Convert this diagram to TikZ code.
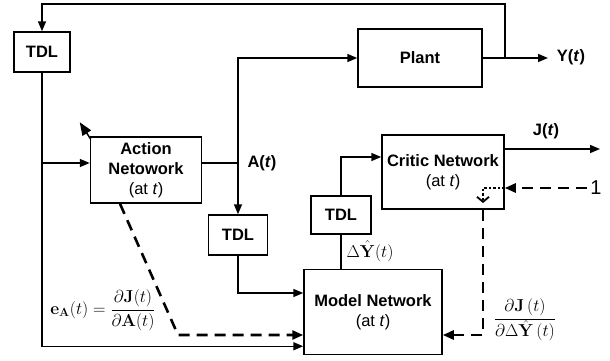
\documentclass[tikz,border=0pt]{standalone}
\usepackage[no-math]{fontspec}
\setmainfont{Liberation Sans}
\usetikzlibrary{arrows.meta}

\begin{document}
\begin{tikzpicture}[x=1pt,y=-1pt,
  font=\fontsize{16.5}{20}\selectfont\bfseries,
  blk/.style={draw, line width=1.5pt, align=center, inner sep=0pt},
  ln/.style={line width=1.5pt},
  arr/.style={ln, -{Triangle[length=10pt,width=8pt]}},
  dsh/.style={line width=2.6pt, dash pattern=on 11pt off 7pt, -{Triangle[length=11pt,width=9pt]}}]
\useasboundingbox (0,0) rectangle (610,360);
% blocks
\node[blk, minimum width=56, minimum height=40] (tdlA) at (42,52) {TDL};
\node[blk, minimum width=124, minimum height=58] (plant) at (420,58) {Plant};
\node[blk, minimum width=111, minimum height=66] (action) at (146,170) {Action\\Netowork\\\mdseries(at \textit{t})};
\node[blk, minimum width=59, minimum height=40] (tdlB) at (238,235) {TDL};
\node[blk, minimum width=122, minimum height=74] (critic) at (443,172) {Critic Network\\\mdseries(at \textit{t})};
\node[blk, minimum width=60, minimum height=38] (tdlC) at (341,215) {TDL};
\node[blk, minimum width=138, minimum height=85] (model) at (373,312) {Model Network\\\mdseries(at \textit{t})};
% labels
\node (yt) at (571,57) {Y(\textit{t})};
\node (at) at (262,163) {A(\textit{t})};
\node (jt) at (546,131) {J(\textit{t})};
\node (one) at (596,188) {\mdseries\fontsize{20}{20}\selectfont 1};
\node (dy) at (370,251) {$\Delta\hat{\mathbf{Y}}(t)$};
\node (ea) at (103,310) {$\mathbf{e}_{\mathbf{A}}(t)=\displaystyle\frac{\partial\mathbf{J}(t)}{\partial\mathbf{A}(t)}$};
\node (dj) at (525,320) {$\displaystyle\frac{\partial\mathbf{J}\,(t)}{\partial\Delta\hat{\mathbf{Y}}\,(t)}$};
\coordinate (yj) at (505,58);
\coordinate (yend) at (548,58);
\coordinate (aj) at (238,163);
\coordinate (jend) at (600,149);
\coordinate (cv) at (483,203);
\coordinate (bend) at (178,335);
% plant loop
\draw[arr] (plant.east) -- (yend);
\draw[arr] (yj) -- ++(0,-54) -| (tdlA.north);
\draw[arr] (tdlA.south) |- ([yshift=9pt]model.south west);
\draw[arr] (tdlA.south |- aj) -- (action.west |- aj);
\draw[ln] (action.east |- aj) -- (aj);
\draw[arr] (aj) |- (plant.west);
\draw[arr] (aj) -- (tdlB.north);
\draw[arr] (tdlB.south) |- ([yshift=19pt]model.west);
\draw[ln, -{Triangle[length=13pt,width=10pt]}] ([shift={(1pt,-3pt)}]action.north west) -- ++(-11,-17);
% critic
\draw[arr] (tdlC.north) |- ([yshift=15pt]critic.west);
\draw[ln] (tdlC.south) -- (tdlC.south |- model.north);
\draw[arr] (critic.east |- jend) -- (jend);
\draw[dsh] (one) -- (critic.east |- one);
\draw[line width=1.8pt, dash pattern=on 2.5pt off 2pt, -{Straight Barb[length=5pt,width=12pt]}] (critic.east |- one) -| (cv);
% error signals
\draw[dsh] (critic.south -| cv) |- ([yshift=-23pt]model.east);
\draw[dsh] ([xshift=-26pt]action.south) -- (bend) -- ([yshift=-23pt]model.west);
\end{tikzpicture}
\end{document}
